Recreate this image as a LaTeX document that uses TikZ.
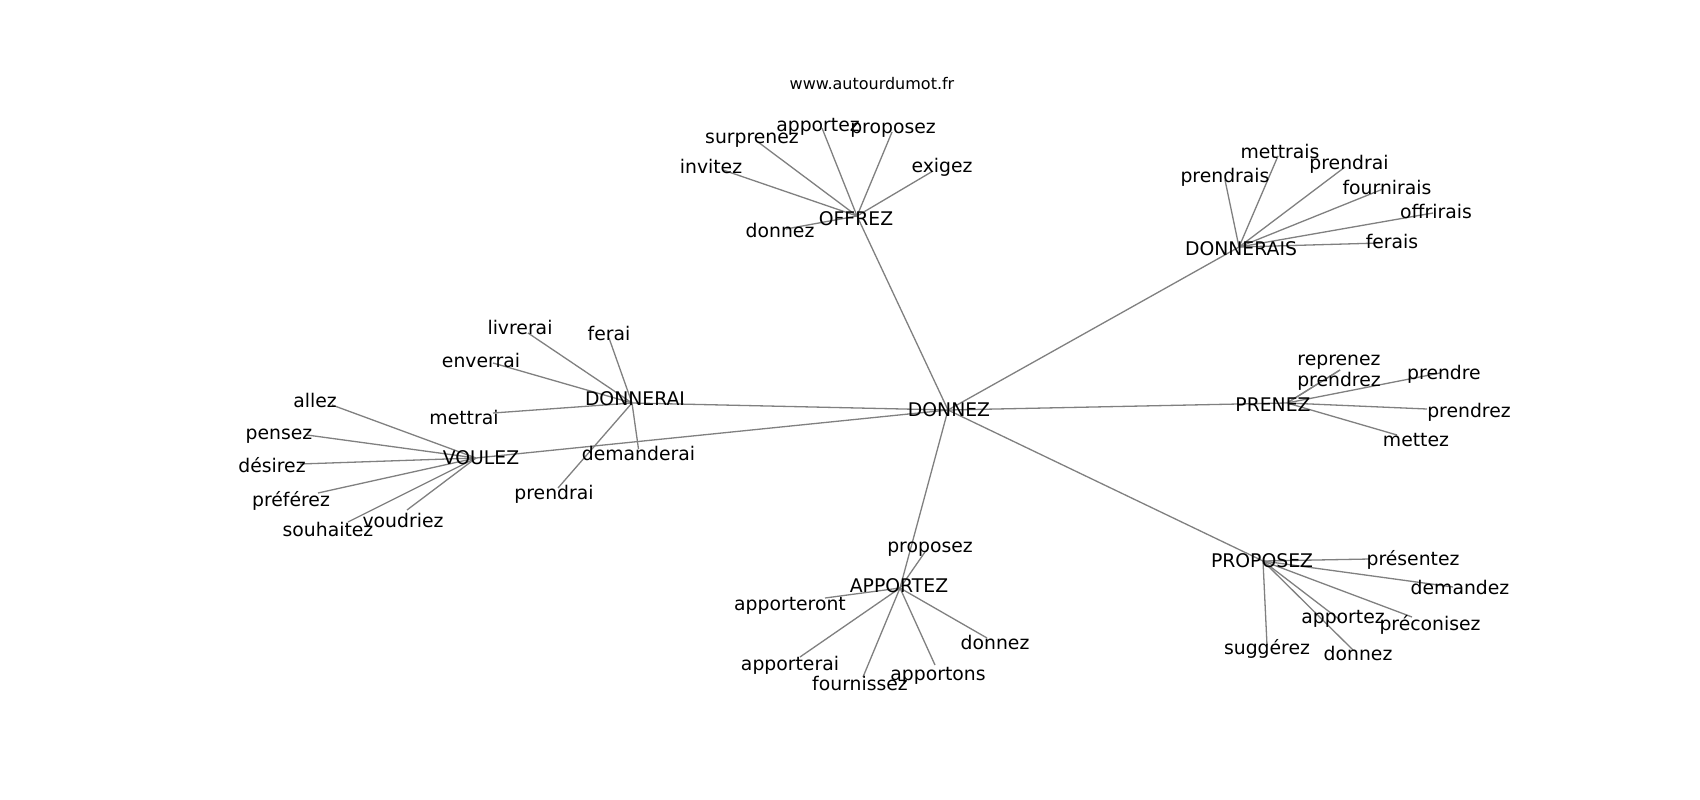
\documentclass[tikz,border=0pt]{standalone}
\usepackage{fontspec}
\setmainfont{DejaVu Sans}
\begin{document}
\begin{tikzpicture}[x=1pt,y=-1pt,
  lbl/.style={font=\fontsize{18.8}{22}\selectfont, inner sep=0pt, text height=0.73em, text depth=0pt, text=black, yshift=-3.5pt},
  ttl/.style={font=\fontsize{16}{19}\selectfont, inner sep=0pt, text height=0.73em, text depth=0pt, text=black, yshift=-2.5pt},
  edge/.style={draw=black!50, line width=1.3pt}]
\useasboundingbox[fill=white] (0,0) rectangle (1700,800);

% hub points
\coordinate (hDONNEZ) at (948,410);
\coordinate (hOFFREZ) at (857,216);
\coordinate (hDONNERAIS) at (1239,247);
\coordinate (hPRENEZ) at (1287,403);
\coordinate (hPROPOSEZ) at (1263,561);
\coordinate (hAPPORTEZ) at (900,588);
\coordinate (hDONNERAI) at (632,403);
\coordinate (hVOULEZ) at (476,458);

% leaf points
\coordinate (e-o-donnez) at (786,229);
\coordinate (e-o-invitez) at (723,170);
\coordinate (e-o-surprenez) at (758,142);
\coordinate (e-o-apportez) at (822,128);
\coordinate (e-o-proposez) at (892,132);
\coordinate (e-o-exigez) at (933,171);

\coordinate (e-s-prendrais) at (1225,180);
\coordinate (e-s-mettrais) at (1278,156);
\coordinate (e-s-prendrai) at (1345,167);
\coordinate (e-s-fournirais) at (1383,189);
\coordinate (e-s-offrirais) at (1433,213);
\coordinate (e-s-ferais) at (1380,243);

\coordinate (e-p-reprenez) at (1340,370);
\coordinate (e-p-prendrezup) at (1340,370);
\coordinate (e-p-prendre) at (1440,373);
\coordinate (e-p-prendrez) at (1427,409);
\coordinate (e-p-mettez) at (1397,435);

\coordinate (e-q-presentez) at (1370,559);
\coordinate (e-q-demandez) at (1453,587);
\coordinate (e-q-preconisez) at (1412,617);
\coordinate (e-q-apportez) at (1340,620);
\coordinate (e-q-suggerez) at (1267,645);
\coordinate (e-q-donnez) at (1353,650);

\coordinate (e-a-proposez) at (925,552);
\coordinate (e-a-apporteront) at (825,598);
\coordinate (e-a-apporterai) at (800,657);
\coordinate (e-a-fournissez) at (863,677);
\coordinate (e-a-apportons) at (935,665);
\coordinate (e-a-donnez) at (987,638);

\coordinate (e-d-ferai) at (609,338);
\coordinate (e-d-livrerai) at (528,333);
\coordinate (e-d-enverrai) at (493,363);
\coordinate (e-d-mettrai) at (493,413);
\coordinate (e-d-demanderai) at (638.5,449);
\coordinate (e-d-prendrai) at (558,488);

\coordinate (e-v-allez) at (332,405);
\coordinate (e-v-pensez) at (307,435);
\coordinate (e-v-desirez) at (300,464);
\coordinate (e-v-preferez) at (318,493);
\coordinate (e-v-souhaitez) at (348,522);
\coordinate (e-v-voudriez) at (407,510);

% edges
\foreach \h in {OFFREZ,DONNERAIS,PRENEZ,PROPOSEZ,APPORTEZ,DONNERAI,VOULEZ}
  \draw[edge] (hDONNEZ) -- (h\h);
\foreach \l in {donnez,invitez,surprenez,apportez,proposez,exigez}
  \draw[edge] (hOFFREZ) -- (e-o-\l);
\foreach \l in {prendrais,mettrais,prendrai,fournirais,offrirais,ferais}
  \draw[edge] (hDONNERAIS) -- (e-s-\l);
\foreach \l in {reprenez,prendrezup,prendre,prendrez,mettez}
  \draw[edge] (hPRENEZ) -- (e-p-\l);
\foreach \l in {presentez,demandez,preconisez,apportez,suggerez,donnez}
  \draw[edge] (hPROPOSEZ) -- (e-q-\l);
\foreach \l in {proposez,apporteront,apporterai,fournissez,apportons,donnez}
  \draw[edge] (hAPPORTEZ) -- (e-a-\l);
\foreach \l in {ferai,livrerai,enverrai,mettrai,demanderai,prendrai}
  \draw[edge] (hDONNERAI) -- (e-d-\l);
\foreach \l in {allez,pensez,desirez,preferez,souhaitez,voudriez}
  \draw[edge] (hVOULEZ) -- (e-v-\l);

% title
\node[ttl] (title) at (872,83) {www.autourdumot.fr};

% hub labels
\node[lbl] (tDONNEZ) at (949,409) {DONNEZ};
\node[lbl] (tOFFREZ) at (856,218) {OFFREZ};
\node[lbl] (tDONNERAIS) at (1241,248) {DONNERAIS};
\node[lbl] (tPRENEZ) at (1273,404) {PRENEZ};
\node[lbl] (tPROPOSEZ) at (1262,560) {PROPOSEZ};
\node[lbl] (tAPPORTEZ) at (899,585) {APPORTEZ};
\node[lbl] (tDONNERAI) at (635,398.5) {DONNERAI};
\node[lbl] (tVOULEZ) at (481,457) {VOULEZ};

% leaf labels
\node[lbl] (t-o-donnez) at (780,230) {donnez};
\node[lbl] (t-o-invitez) at (711,166) {invitez};
\node[lbl] (t-o-surprenez) at (752,136) {surprenez};
\node[lbl] (t-o-apportez) at (818,124) {apportez};
\node[lbl] (t-o-proposez) at (893,126) {proposez};
\node[lbl] (t-o-exigez) at (942,165) {exigez};

\node[lbl] (t-s-prendrais) at (1225,175) {prendrais};
\node[lbl] (t-s-mettrais) at (1280,151) {mettrais};
\node[lbl] (t-s-prendrai) at (1349,162) {prendrai};
\node[lbl] (t-s-fournirais) at (1387,187) {fournirais};
\node[lbl] (t-s-offrirais) at (1436,211) {offrirais};
\node[lbl] (t-s-ferais) at (1392,241) {ferais};

\node[lbl] (t-p-reprenez) at (1339,358) {reprenez};
\node[lbl] (t-p-prendrezup) at (1339,379) {prendrez};
\node[lbl] (t-p-prendre) at (1444,372) {prendre};
\node[lbl] (t-p-prendrez) at (1469,410) {prendrez};
\node[lbl] (t-p-mettez) at (1416,439) {mettez};

\node[lbl] (t-q-presentez) at (1413,558) {présentez};
\node[lbl] (t-q-demandez) at (1460,587) {demandez};
\node[lbl] (t-q-preconisez) at (1430,623) {préconisez};
\node[lbl] (t-q-apportez) at (1343,616) {apportez};
\node[lbl] (t-q-suggerez) at (1267,647) {suggérez};
\node[lbl] (t-q-donnez) at (1358,653) {donnez};

\node[lbl] (t-a-proposez) at (930,545) {proposez};
\node[lbl] (t-a-apporteront) at (790,603) {apporteront};
\node[lbl] (t-a-apporterai) at (790,663) {apporterai};
\node[lbl] (t-a-fournissez) at (860,683) {fournissez};
\node[lbl] (t-a-apportons) at (938,673) {apportons};
\node[lbl] (t-a-donnez) at (995,642) {donnez};

\node[lbl] (t-d-ferai) at (609,333) {ferai};
\node[lbl] (t-d-livrerai) at (520,327) {livrerai};
\node[lbl] (t-d-enverrai) at (481,360) {enverrai};
\node[lbl] (t-d-mettrai) at (464,417) {mettrai};
\node[lbl] (t-d-demanderai) at (638.5,453.5) {demanderai};
\node[lbl] (t-d-prendrai) at (554,492) {prendrai};

\node[lbl] (t-v-allez) at (315,400) {allez};
\node[lbl] (t-v-pensez) at (279,432) {pensez};
\node[lbl] (t-v-desirez) at (272,465) {désirez};
\node[lbl] (t-v-preferez) at (291,499) {préférez};
\node[lbl] (t-v-souhaitez) at (328,529) {souhaitez};
\node[lbl] (t-v-voudriez) at (403,520) {voudriez};
\end{tikzpicture}
\end{document}
